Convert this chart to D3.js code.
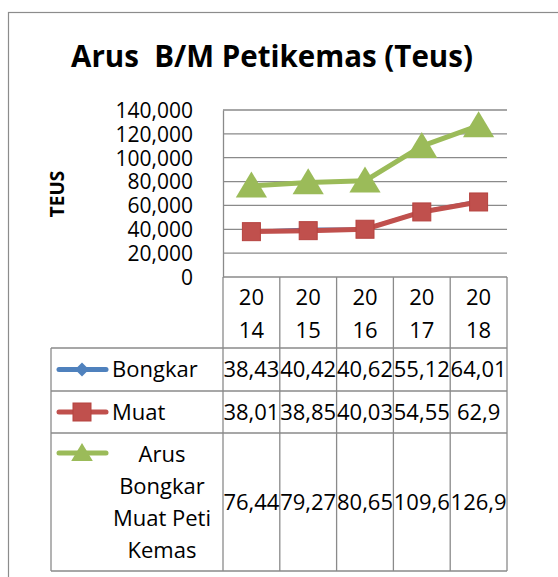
<!DOCTYPE html>
<html>
<head>
<meta charset="utf-8">
<script src="https://cdn.jsdelivr.net/npm/d3@7/dist/d3.min.js"></script>
<style>
  body { margin:0; background:#fff; }
  text { font-family: "Open Sans", sans-serif; fill:#000; }
</style>
</head>
<body>
<div id="chart"></div>
<script>
// data
var years = ["2014", "2015", "2016", "2017", "2018"];
var bongkar = [38430, 40420, 40620, 55120, 64010];
var muat = [38010, 38850, 40030, 54550, 62900];
var arus = [76440, 79270, 80650, 109670, 126910];
var yTicks = [0, 20000, 40000, 60000, 80000, 100000, 120000, 140000];
// text as it is shown in the table cells
var bongkarText = ["38,43", "40,42", "40,62", "55,12", "64,01"];
var muatText = ["38,01", "38,85", "40,03", "54,55", "62,9"];
var arusText = ["76,44", "79,27", "80,65", "109,6", "126,9"];

var series = [
  {name: ["Bongkar"], values: bongkar, text: bongkarText, color: "#4F81BD", marker: "diamond"},
  {name: ["Muat"], values: muat, text: muatText, color: "#C0504D", marker: "square"},
  {name: ["Arus", "Bongkar", "Muat Peti", "Kemas"], values: arus, text: arusText, color: "#9BBB59", marker: "triangle"}
];

var W = 558, H = 577;
var svg = d3.select("#chart").append("svg").attr("width", W).attr("height", H);

// chart border
svg.append("rect").attr("x", 8.5).attr("y", 12.5).attr("width", 600).attr("height", 600)
  .attr("fill", "none").attr("stroke", "#8c8c8c").attr("stroke-width", 1.2);

svg.append("text").attr("x", 272).attr("y", 67).attr("text-anchor", "middle")
  .attr("font-size", 29.5).attr("font-weight", "bold")
  .attr("xml:space", "preserve")
  .text("Arus  B/M Petikemas (Teus)");

var plot = {left: 223, right: 507, top: 110, bottom: 277};
var x = d3.scaleBand().domain(years).range([plot.left, plot.right]);
var y = d3.scaleLinear().domain([0, 140000]).range([plot.bottom, plot.top]);

var grey = "#8a8a8a";

// gridlines
svg.append("g").selectAll("line").data(yTicks).enter().append("line")
  .attr("x1", plot.left).attr("x2", plot.right)
  .attr("y1", function(d) { return y(d); }).attr("y2", function(d) { return y(d); })
  .attr("stroke", grey).attr("stroke-width", 1.3);

// y axis
var yAxis = svg.append("g").attr("transform", "translate(" + plot.left + ",0)")
  .call(d3.axisLeft(y).tickValues(yTicks).tickFormat(d3.format(",")).tickSize(0).tickPadding(30));
yAxis.select(".domain").attr("stroke", grey).attr("stroke-width", 1.3);
yAxis.selectAll("text").attr("font-size", 21).attr("font-family", "Open Sans").attr("dy", "0.35em");

svg.append("text").attr("transform", "translate(64,194) rotate(-90)")
  .attr("text-anchor", "middle").attr("font-size", 19).attr("font-weight", "bold").text("TEUS");

// data table
var rows = [277, 348, 391, 433, 571];
var tableLeft = 51;
var tg = svg.append("g").attr("stroke", grey).attr("stroke-width", 1.3);
// horizontal lines
tg.selectAll("line.h").data(rows.slice(1)).enter().append("line")
  .attr("x1", tableLeft).attr("x2", plot.right)
  .attr("y1", function(d) { return d; }).attr("y2", function(d) { return d; });
// vertical lines
var vx = years.map(function(d) { return x(d); }).concat([plot.right]);
tg.selectAll("line.v").data(vx).enter().append("line")
  .attr("x1", function(d) { return d; }).attr("x2", function(d) { return d; })
  .attr("y1", plot.bottom).attr("y2", rows[4]);
tg.append("line").attr("x1", tableLeft).attr("x2", tableLeft).attr("y1", rows[1]).attr("y2", rows[4]);

// category labels split in two lines
years.forEach(function(yr) {
  var cx = x(yr) + x.bandwidth() / 2;
  var t = svg.append("text").attr("text-anchor", "middle").attr("font-size", 22);
  t.append("tspan").attr("x", cx).attr("y", 305).text(yr.slice(0, 2));
  t.append("tspan").attr("x", cx).attr("y", 338).text(yr.slice(2));
});

function marker(g, type, cx, cy, color, s) {
  if (type == "square") {
    g.append("rect").attr("x", cx - s / 2).attr("y", cy - s / 2).attr("width", s).attr("height", s)
      .attr("fill", color).attr("stroke", "#b5423f").attr("stroke-width", 1);
  } else if (type == "triangle") {
    g.append("path").attr("d", "M" + cx + "," + (cy - s * 0.55) + "L" + (cx + s * 0.6) + "," + (cy + s * 0.45) + "L" + (cx - s * 0.6) + "," + (cy + s * 0.45) + "Z")
      .attr("fill", color);
  } else {
    g.append("path").attr("d", "M" + cx + "," + (cy - s / 2) + "L" + (cx + s / 2) + "," + cy + "L" + cx + "," + (cy + s / 2) + "L" + (cx - s / 2) + "," + cy + "Z")
      .attr("fill", color);
  }
}

var sizes = {diamond: 12, square: 18, triangle: 26};

// lines and markers (blue first so red sits on top)
var line = d3.line().x(function(d, i) { return x(years[i]) + x.bandwidth() / 2; }).y(function(d) { return y(d); });
series.forEach(function(s) {
  var g = svg.append("g");
  g.append("path").datum(s.values).attr("d", line).attr("fill", "none")
    .attr("stroke", s.color).attr("stroke-width", s.marker == "diamond" ? 2.5 : 5).attr("stroke-linejoin", "round");
  s.values.forEach(function(v, i) {
    marker(g, s.marker, x(years[i]) + x.bandwidth() / 2, y(v), s.color, sizes[s.marker]);
  });
});

// table rows: legend key + values
series.forEach(function(s, r) {
  var top = rows[r + 1], bot = rows[r + 2];
  var cy = (top + bot) / 2;
  var g = svg.append("g");
  var ky = s.name.length > 1 ? 453 : cy;
  g.append("line").attr("x1", 59).attr("x2", 106).attr("y1", ky).attr("y2", ky)
    .attr("stroke", s.color).attr("stroke-width", 5).attr("stroke-linecap", "round");
  marker(g, s.marker, 82, ky, s.color, s.marker == "triangle" ? 18 : (s.marker == "square" ? 18 : 14));
  if (s.name.length == 1) {
    g.append("text").attr("x", 112).attr("y", cy).attr("dy", "0.35em").attr("font-size", 22).text(s.name[0]);
  } else {
    s.name.forEach(function(n, j) {
      g.append("text").attr("x", 162).attr("y", 462 + j * 32).attr("text-anchor", "middle").attr("font-size", 22).text(n);
    });
  }
  s.text.forEach(function(t, i) {
    g.append("text").attr("x", x(years[i]) + x.bandwidth() / 2).attr("y", cy).attr("dy", "0.35em")
      .attr("text-anchor", "middle").attr("font-size", 22).text(t);
  });
});
</script>
</body>
</html>
